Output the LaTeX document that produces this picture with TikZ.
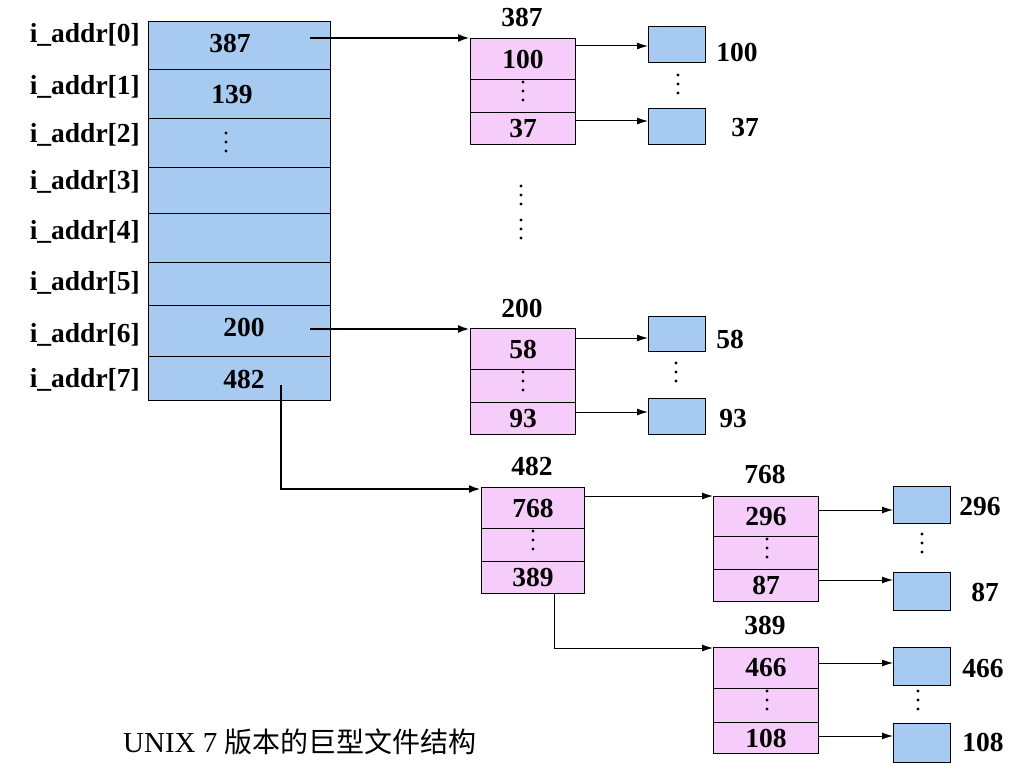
\documentclass[tikz,border=0pt]{standalone}
\usepackage{fontspec}
\setmainfont{Liberation Serif}
\newfontfamily\cjk{Noto Sans CJK SC}
\usetikzlibrary{arrows.meta}
\definecolor{cblue}{RGB}{166,202,240}
\definecolor{cpink}{RGB}{246,205,250}
\newcommand\vdt[2]{\fill (#1,#2-9) circle[radius=1.6pt] (#1,#2) circle[radius=1.6pt] (#1,#2+9) circle[radius=1.6pt];}
\begin{document}
\begin{tikzpicture}[x=1pt,y=-1pt,
  lbl/.style={font=\fontsize{27.5}{27.5}\selectfont\bfseries, inner sep=0pt},
  cellb/.style={draw=black, line width=1pt, fill=cblue, anchor=north west, inner sep=0pt, minimum width=#1},
  cellp/.style={draw=black, line width=1pt, fill=cpink, anchor=north west, inner sep=0pt, minimum width=105pt, font=\fontsize{27.5}{27.5}\selectfont\bfseries},
  datab/.style={draw=black, line width=1pt, fill=cblue, anchor=north west, inner sep=0pt, minimum width=57pt},
  bigarr/.style={line width=2.8pt, -{Latex[length=12pt,width=8pt]}},
  thinarr/.style={line width=1pt, -{Latex[length=11pt,width=7pt]}},
  thinline/.style={line width=1pt}
]
\useasboundingbox (0,0) rectangle (1036,778);
\fill[white] (0,0) rectangle (1036,778);

% main array
\node[cellb=182pt, minimum height=48pt] (m0) at (148,21) {};
\node[cellb=182pt, minimum height=49pt] (m1) at (148,69) {};
\node[cellb=182pt, minimum height=49pt] (m2) at (148,118) {};
\node[cellb=182pt, minimum height=46pt] (m3) at (148,167) {};
\node[cellb=182pt, minimum height=49pt] (m4) at (148,213) {};
\node[cellb=182pt, minimum height=43pt] (m5) at (148,262) {};
\node[cellb=182pt, minimum height=51pt] (m6) at (148,305) {};
\node[cellb=182pt, minimum height=44pt] (m7) at (148,356) {};

\node[lbl, anchor=base east] (l0) at (140,43) {i\_addr[0]};
\node[lbl, anchor=base east] (l1) at (140,95) {i\_addr[1]};
\node[lbl, anchor=base east] (l2) at (140,143) {i\_addr[2]};
\node[lbl, anchor=base east] (l3) at (140,190) {i\_addr[3]};
\node[lbl, anchor=base east] (l4) at (140,240) {i\_addr[4]};
\node[lbl, anchor=base east] (l5) at (140,290) {i\_addr[5]};
\node[lbl, anchor=base east] (l6) at (140,342) {i\_addr[6]};
\node[lbl, anchor=base east] (l7) at (140,387) {i\_addr[7]};

\node[lbl, anchor=base] (v0) at (230,53) {387};
\node[lbl, anchor=base] (v1) at (232,104) {139};
\vdt{226}{142}
\node[lbl, anchor=base] (v6) at (244,336) {200};
\node[lbl, anchor=base] (v7) at (244,388) {482};

% block 387
\node[lbl, anchor=base] (h387) at (522,27) {387};
\node[cellp, minimum height=41pt] (b387a) at (470,38) {100};
\node[cellp, minimum height=33pt] (b387b) at (470,79) {};
\node[cellp, minimum height=32pt] (b387c) at (470,112) {37};
\vdt{523}{91}
\node[datab, minimum height=36pt] (d100) at (648,26) {};
\node[datab, minimum height=36pt] (d37) at (648,108) {};
\node[lbl, anchor=base] (n100) at (737,62) {100};
\node[lbl, anchor=base] (n37) at (745,137) {37};
\vdt{678}{84}

% block 200
\node[lbl, anchor=base] (h200) at (522,317) {200};
\node[cellp, minimum height=41pt] (b200a) at (470,328) {58};
\node[cellp, minimum height=33pt] (b200b) at (470,369) {};
\node[cellp, minimum height=32pt] (b200c) at (470,402) {93};
\vdt{523}{381}
\node[datab, minimum height=35pt] (d58) at (648,316) {};
\node[datab, minimum height=36pt] (d93) at (648,398) {};
\node[lbl, anchor=base] (n58) at (730,348) {58};
\node[lbl, anchor=base] (n93) at (733,427) {93};
\vdt{676}{372}

% vertical dots between blocks
\vdt{521}{195}
\vdt{521}{229}

% block 482
\node[lbl, anchor=base] (h482) at (532,475) {482};
\node[cellp, minimum width=103pt, minimum height=41pt] (b482a) at (481,487) {768};
\node[cellp, minimum width=103pt, minimum height=33pt] (b482b) at (481,528) {};
\node[cellp, minimum width=103pt, minimum height=32pt] (b482c) at (481,561) {389};
\vdt{533}{540}

% block 768
\node[lbl, anchor=base] (h768) at (765,483) {768};
\node[cellp, minimum height=40pt] (b768a) at (713,496) {296};
\node[cellp, minimum height=33pt] (b768b) at (713,536) {};
\node[cellp, minimum height=32pt] (b768c) at (713,569) {87};
\vdt{767}{548}
\node[datab, minimum height=37pt] (d296) at (893,486) {};
\node[datab, minimum height=38pt] (d87) at (893,572) {};
\node[lbl, anchor=base] (n296) at (980,515) {296};
\node[lbl, anchor=base] (n87) at (985,601) {87};
\vdt{922}{543}

% block 389
\node[lbl, anchor=base] (h389) at (765,634) {389};
\node[cellp, minimum height=41pt] (b389a) at (713,647) {466};
\node[cellp, minimum height=34pt] (b389b) at (713,688) {};
\node[cellp, minimum height=31pt] (b389c) at (713,722) {108};
\vdt{767}{700}
\node[datab, minimum height=38pt] (d466) at (893,647) {};
\node[datab, minimum height=39pt] (d108) at (893,723) {};
\node[lbl, anchor=base] (n466) at (983,677) {466};
\node[lbl, anchor=base] (n108) at (983,751) {108};
\vdt{918}{700}

% caption
\node[anchor=base west, inner sep=0pt, font=\fontsize{29}{29}\selectfont] (cap) at (123,752) {UNIX 7 {\cjk\fontsize{28}{28}\selectfont 版本的巨型文件结构}};

% big arrows from main array
\coordinate (s0) at (310,38);
\coordinate (s6) at (310,329);
\coordinate (s7) at (281,385);
\draw[bigarr] (s0) -- (b387a.north west);
\draw[bigarr] (s6) -- (s6 -| b200a.west);
\draw[bigarr] (s7) |- ([yshift=-2pt]b482a.north west);

% thin arrows
\coordinate (a100) at (575,46);
\coordinate (a37) at (575,121);
\coordinate (a58) at (575,338);
\coordinate (a93) at (575,412);
\coordinate (a768) at (584,496);
\coordinate (a296) at (818,510);
\coordinate (a87) at (818,580);
\coordinate (a466) at (818,663);
\coordinate (a108) at (818,736);
\coordinate (a389) at (554,593);
\draw[thinarr] (a100) -- (a100 -| d100.west);
\draw[thinarr] (a37) -- (a37 -| d37.west);
\draw[thinarr] (a58) -- (a58 -| d58.west);
\draw[thinarr] (a93) -- (a93 -| d93.west);
\draw[thinarr] (a768) -- (b768a.north west);
\draw[thinarr] (a296) -- (a296 -| d296.west);
\draw[thinarr] (a87) -- (a87 -| d87.west);
\draw[thinarr] (a466) -- (a466 -| d466.west);
\draw[thinarr] (a108) -- (a108 -| d108.west);
\draw[thinarr] (a389) |- ([yshift=-1pt]b389a.north west);
\end{tikzpicture}
\end{document}
